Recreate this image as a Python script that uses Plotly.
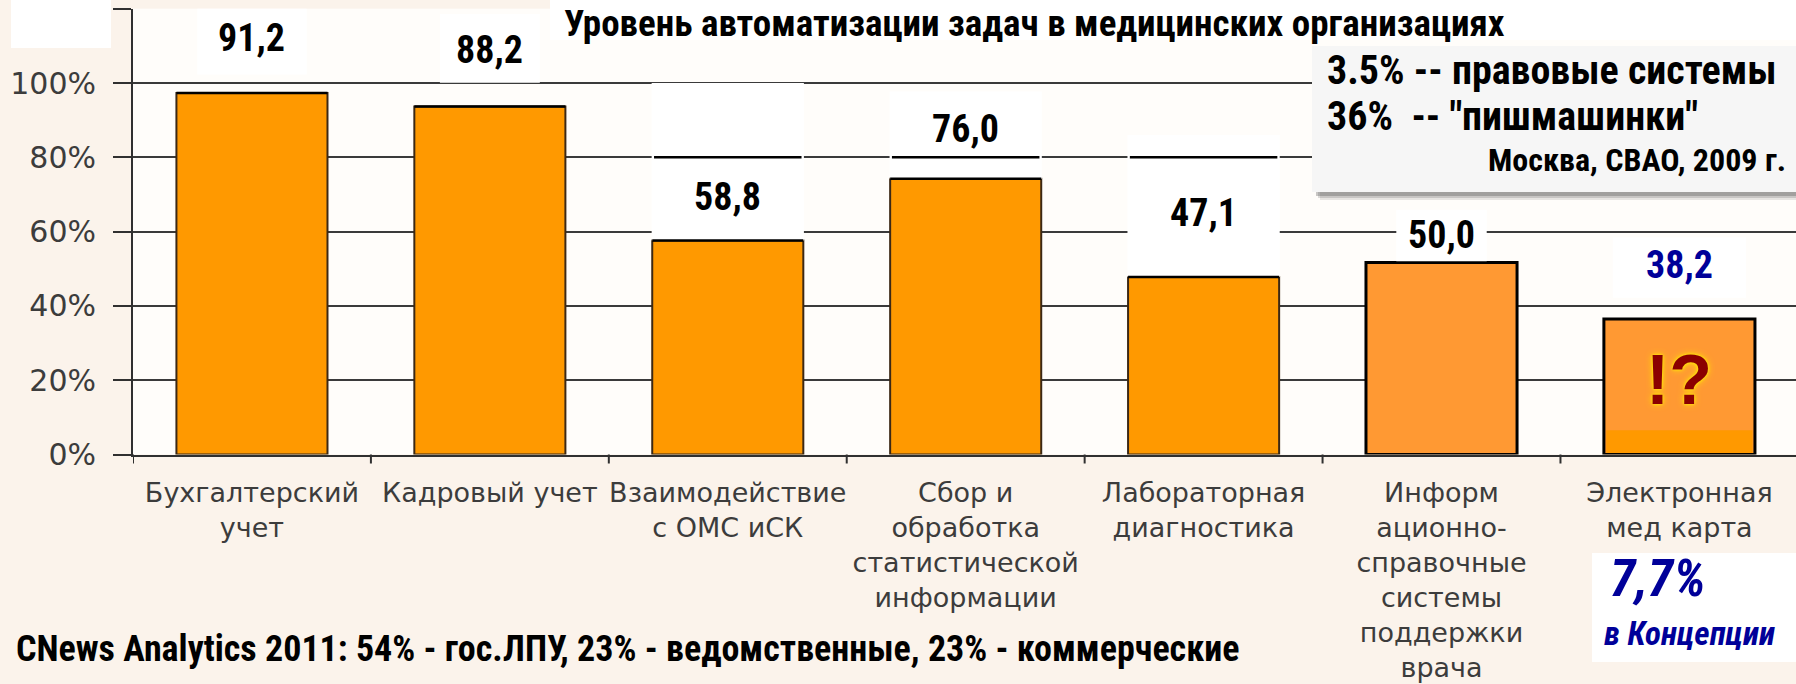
import plotly.graph_objects as go

# ---------------- data ----------------
categories = [
    "Бухгалтерский<br>учет",
    "Кадровый учет",
    "Взаимодействие<br>с ОМС иСК",
    "Сбор и<br>обработка<br>статистической<br>информации",
    "Лабораторная<br>диагностика",
    "Информ<br>ационно-<br>справочные<br>системы<br>поддержки<br>врача",
    "Электронная<br>мед карта",
]
bar_values = [97.3, 93.7, 57.6, 74.2, 47.8, 51.7, 36.5]
label_texts = ["91,2", "88,2", "58,8", "76,0", "47,1", "50,0", "38,2"]
label_y = [112.2, 109.0, 69.3, 87.5, 65.0, 59.1, 51.0]
box_top = [121.4, 118.6, 100.0, 97.7, 86.0, 65.9, 58.4]
box_bottom = [102.3, 100.1, 57.6, 74.2, 47.8, 52.0, 42.2]
box_halfwidth = [0.23, 0.21, 0.32, 0.32, 0.32, 0.19, 0.28]
box_line80 = [False, False, True, True, True, False, False]
label_colors = ["#000000"] * 6 + ["#000099"]
bar_colors = ["#FF9900"] * 5 + ["#FF9933"] * 2
bar_line_colors = ["#3C2814"] * 5 + ["#000000"] * 2
bar_line_widths = [2] * 5 + [3] * 2
emk_strip_height = 6.5
y_tickvals = [0, 20, 40, 60, 80, 100, 120]
y_ticktext = ["0%", "20%", "40%", "60%", "80%", "100%", "120%"]

title_text = "Уровень автоматизации задач в медицинских организациях"
info_lines = ["3.5% -- правовые системы", "36%  -- \"пишмашинки\""]
info_source = "Москва, СВАО, 2009 г."
bottom_note = "CNews Analytics 2011: 54% - гос.ЛПУ, 23% - ведомственные, 23% - коммерческие"
concept_value = "7,7%"
concept_text = "в Концепции"
emk_mark = "!?"

# ---------------- layout constants ----------------
W, H = 1796, 684
NARROW = "Liberation Sans Narrow, Arial Narrow, Roboto Condensed, sans-serif"
BAR_W = 0.635
px = lambda v: v / W
py = lambda v: 1 - v / H

fig = go.Figure()
fig.add_trace(go.Bar(
    x=list(range(len(categories))), y=bar_values, width=BAR_W,
    marker=dict(color=bar_colors, line=dict(color=bar_line_colors, width=bar_line_widths)),
    hoverinfo="skip", showlegend=False,
))

shapes = []
annotations = []

# bottom strip of the last bar (different shade)
shapes.append(dict(type="rect", xref="x", yref="y", layer="above",
                   x0=6 - BAR_W / 2 + 0.01, x1=6 + BAR_W / 2 - 0.01, y0=0.4, y1=emk_strip_height,
                   fillcolor="#FF9900", line=dict(width=0)))

# value label boxes
for i, t in enumerate(label_texts):
    shapes.append(dict(type="rect", xref="x", yref="y", layer="above",
                       x0=i - box_halfwidth[i], x1=i + box_halfwidth[i],
                       y0=box_bottom[i], y1=box_top[i],
                       fillcolor="white", line=dict(width=0)))
    if box_line80[i]:
        shapes.append(dict(type="line", xref="x", yref="y", layer="above",
                           x0=i - box_halfwidth[i] + 0.01, x1=i + box_halfwidth[i] - 0.01,
                           y0=80, y1=80, line=dict(color="black", width=2.5)))
    annotations.append(dict(x=i, y=label_y[i], xref="x", yref="y", text=t, showarrow=False,
                            font=dict(family=NARROW, size=38, color=label_colors[i], weight="bold")))
    if box_line80[i] or i in (0, 1):
        shapes.append(dict(type="line", xref="x", yref="y", layer="above",
                           x0=i - BAR_W / 2, x1=i + BAR_W / 2,
                           y0=bar_values[i], y1=bar_values[i], line=dict(color="black", width=2.5)))

# white patch over the top-left corner (hides 120%)
shapes.append(dict(type="rect", xref="paper", yref="paper", layer="above",
                   x0=px(11), x1=px(111), y0=py(48), y1=1.0, fillcolor="white", line=dict(width=0)))
# title band
shapes.append(dict(type="rect", xref="paper", yref="paper", layer="above",
                   x0=px(550), x1=1.0, y0=py(40), y1=1.0, fillcolor="white", line=dict(width=0)))
# info box shadow + box
for k, op in enumerate([0.12, 0.18, 0.28]):
    off = 8 - 2 * k
    shapes.append(dict(type="rect", xref="paper", yref="paper", layer="above",
                       x0=px(1312 + off), x1=1.0, y0=py(192 + off), y1=py(46 + off),
                       fillcolor=f"rgba(60,60,60,{op})", line=dict(width=0)))
shapes.append(dict(type="rect", xref="paper", yref="paper", layer="above",
                   x0=px(1312), x1=1.0, y0=py(192), y1=py(46),
                   fillcolor="#F6F6F6", line=dict(width=0)))
# concept box
shapes.append(dict(type="rect", xref="paper", yref="paper", layer="above",
                   x0=px(1592), x1=1.0, y0=py(662), y1=py(553),
                   fillcolor="white", line=dict(width=0)))

annotations += [
    dict(x=px(562), y=1.0, xref="paper", yref="paper", xanchor="left", yanchor="top",
         text=title_text, showarrow=False,
         font=dict(family=NARROW, size=37, color="black", weight="bold")),
    dict(x=px(1325), y=py(70), xref="paper", yref="paper", xanchor="left", yanchor="middle",
         text=info_lines[0], showarrow=False,
         font=dict(family=NARROW, size=40, color="black", weight="bold")),
    dict(x=px(1325), y=py(117), xref="paper", yref="paper", xanchor="left", yanchor="middle",
         text=info_lines[1], showarrow=False,
         font=dict(family=NARROW, size=40, color="black", weight="bold")),
    dict(x=px(1788), y=py(160), xref="paper", yref="paper", xanchor="right", yanchor="middle",
         text=info_source, showarrow=False,
         font=dict(family=NARROW, size=32, color="black", weight="bold")),
    dict(x=px(14), y=py(649), xref="paper", yref="paper", xanchor="left", yanchor="middle",
         text=bottom_note, showarrow=False,
         font=dict(family=NARROW, size=36, color="black", weight="bold")),
    dict(x=px(1608), y=py(578), xref="paper", yref="paper", xanchor="left", yanchor="middle",
         text=concept_value, showarrow=False,
         font=dict(family=NARROW, size=52, color="#000099", weight="bold", style="italic")),
    dict(x=px(1602), y=py(633), xref="paper", yref="paper", xanchor="left", yanchor="middle",
         text=concept_text, showarrow=False,
         font=dict(family=NARROW, size=33, color="#000099", weight="bold", style="italic")),
    dict(x=6, y=20, xref="x", yref="y", text=emk_mark, showarrow=False,
         font=dict(family="Liberation Sans, Arial, sans-serif", size=70, color="#8B0000", weight="bold",
                   shadow="0 0 7px #FFE600, 0 0 3px #FFFF00")),
]

fig.update_layout(
    width=W, height=H,
    margin=dict(l=0, r=0, t=0, b=0),
    paper_bgcolor="#FBF3EB",
    plot_bgcolor="#FFFDFA",
    shapes=shapes,
    annotations=annotations,
    xaxis=dict(
        domain=[px(133), 1.0],
        range=[-0.5, 6.49],
        tickmode="array",
        tickvals=list(range(len(categories))),
        ticktext=categories,
        ticks="",
        ticklabelstandoff=13,
        showline=True, linecolor="#303030", linewidth=2,
        showgrid=False, zeroline=False,
        tickfont=dict(family="DejaVu Sans", size=27, color="#3C3C3C"),
        tickangle=0,
        automargin=False,
    ),
    yaxis=dict(
        domain=[py(454.5), py(8.7)],
        range=[0, 120],
        tickmode="array", tickvals=y_tickvals, ticktext=y_ticktext,
        ticks="outside", ticklen=18, tickwidth=2, tickcolor="#303030",
        ticklabelstandoff=11,
        showgrid=True, gridcolor="#3A3A3A", gridwidth=2,
        showline=True, linecolor="#303030", linewidth=2,
        zeroline=False,
        tickfont=dict(family="DejaVu Sans", size=30, color="#3C3C3C"),
        automargin=False,
    ),
)

# category boundary ticks on x axis (small downward ticks)
for b in range(len(categories) + 1):
    shapes.append(dict(type="line", xref="x", yref="paper", layer="above",
                       x0=b - 0.5, x1=b - 0.5, y0=py(454.5 + 9), y1=py(454.5),
                       line=dict(color="#303030", width=2)))
fig.update_layout(shapes=shapes)

fig.write_html(
    "out.html",
    config={"displayModeBar": False},
    post_script="document.body.style.margin='0';document.body.style.background='#FBF3EB';",
)
